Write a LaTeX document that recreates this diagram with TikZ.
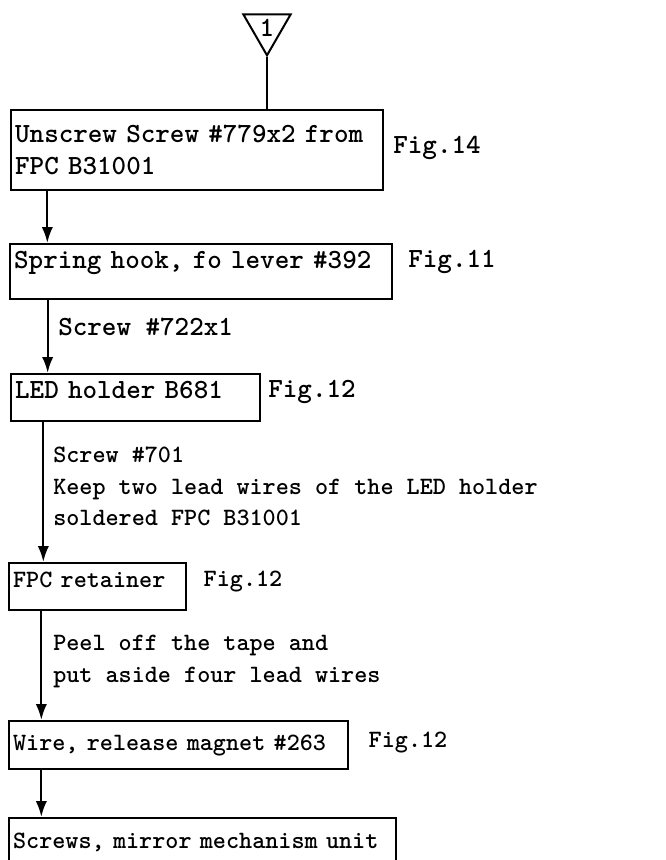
\documentclass[tikz,border=0pt]{standalone}
\usepackage{fontspec}
\usetikzlibrary{arrows.meta,shapes.geometric}

\begin{document}
\begin{tikzpicture}[x=0.75pt,y=-0.75pt,
  font=\ttfamily\bfseries\fontsize{18.7}{23.6}\selectfont,
  widetype/.style={font=\ttfamily\bfseries\fontsize{20.8}{23.6}\selectfont},
  stepbox/.style={draw,line width=1.7pt,anchor=north west,align=left,inner xsep=3pt,inner ysep=0pt},
  figlbl/.style={inner sep=0pt},
  note/.style={anchor=west,align=left,inner sep=0pt},
  arr/.style={line width=1.7pt,-{Latex[length=12pt,width=8.5pt]}}]
  \useasboundingbox (0,0) rectangle (666,860);
  \clip (0,0) rectangle (666,860);
  % entry mark
  \node[draw,line width=1.5pt,regular polygon,regular polygon sides=3,shape border rotate=180,
        minimum size=41pt,inner sep=0pt,widetype] (tri) at (267,28) {1};
  % steps
  \node[stepbox,widetype,text width=273pt,minimum height=60pt] (b1) at (10,109)
    {Unscrew Screw \#779x2 from\\FPC B31001};
  \node[stepbox,widetype,text width=280.5pt,minimum height=41.25pt,text depth=17pt] (b2) at (9,243)
    {Spring hook, fo lever \#392};
  \node[stepbox,widetype,text width=180.75pt,minimum height=35.25pt,text depth=11pt] (b3) at (10,373)
    {LED holder B681};
  \node[stepbox,text width=126.75pt,minimum height=35.25pt,text depth=10pt] (b4) at (8,562)
    {FPC retainer};
  \node[stepbox,text width=248pt,minimum height=36pt] (b5) at (8,720)
    {Wire, release magnet \#263};
  \node[stepbox,text width=284.25pt,minimum height=36pt] (b6) at (8,817)
    {Screws, mirror mechanism unit};
  % figure refs
  \node[figlbl,widetype] (f1) at (437,148) {Fig.14};
  \node[figlbl,widetype] (f2) at (452,262) {Fig.11};
  \node[figlbl,widetype] (f3) at (312,392) {Fig.12};
  \node[figlbl] (f4) at (243,582) {Fig.12};
  \node[figlbl] (f5) at (408,743) {Fig.12};
  % notes on the arrows
  \node[note,widetype] (n1) at (58,327) {Screw \#722x1};
  \node[note] (n2) at (53,486.5) {Screw \#701\\Keep two lead wires of the LED holder\\soldered FPC B31001};
  \node[note] (n3) at (53,661.5) {Peel off the tape and\\put aside four lead wires};
  % connectors
  \draw[line width=1.7pt] (tri.corner 1) -- (tri.corner 1 |- b1.north);
  \coordinate (a1) at ([xshift=28pt]b1.south west);
  \coordinate (a2) at ([xshift=29pt]b2.south west);
  \coordinate (a3) at ([xshift=25pt]b3.south west);
  \coordinate (a4) at ([xshift=25pt]b4.south west);
  \coordinate (a5) at ([xshift=25pt]b5.south west);
  \draw[arr] (a1) -- (a1 |- b2.north);
  \draw[arr] (a2) -- (a2 |- b3.north);
  \draw[arr] (a3) -- (a3 |- b4.north);
  \draw[arr] (a4) -- (a4 |- b5.north);
  \draw[arr] (a5) -- (a5 |- b6.north);
\end{tikzpicture}
\end{document}
